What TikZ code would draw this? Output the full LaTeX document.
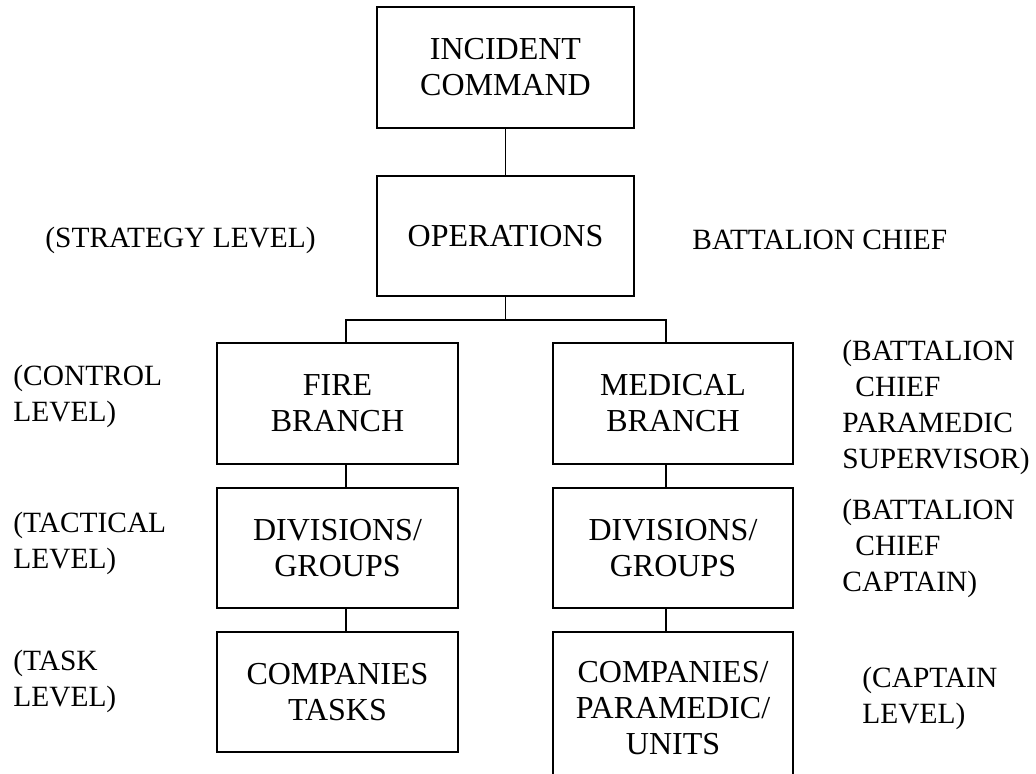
\documentclass[tikz,border=0pt]{standalone}
\usepackage{fontspec}
\setmainfont{Liberation Serif}

\begin{document}
\begin{tikzpicture}[x=0.5pt, y=-0.5pt,
        unit/.style={draw, line width=1pt, align=center, inner sep=0pt, font=\fontsize{16}{18}\selectfont},
        rank/.style={align=left, inner sep=0pt, anchor=west, font=\fontsize{14.7}{18}\selectfont},
        link/.style={line width=0.75pt}] %chart
            \useasboundingbox (0,0) rectangle (1036,774);
            \clip (0,0) rectangle (1036,774);

            \node[unit, minimum width=128.5pt, minimum height=60.5pt] (incident) at (505.5,67.5) {INCIDENT\\COMMAND};
            \node[unit, minimum width=128.5pt, minimum height=60pt] (ops) at (505.5,236) {OPERATIONS};

            \node[unit, minimum width=120.5pt, minimum height=60.5pt] (fire) at (337.5,403.5) {FIRE\\BRANCH};
            \node[unit, minimum width=120pt, minimum height=60.5pt] (med) at (673,403.5) {MEDICAL\\BRANCH};
            \node[unit, minimum width=120.5pt, minimum height=60pt] (firediv) at (337.5,548) {DIVISIONS/\\GROUPS};
            \node[unit, minimum width=120pt, minimum height=60pt] (meddiv) at (673,548) {DIVISIONS/\\GROUPS};
            \node[unit, minimum width=120.5pt, minimum height=60pt] (firecomp) at (337.5,692) {COMPANIES\\TASKS};
            \node[unit, minimum width=120pt, minimum height=76pt] (medcomp) at (673,708) {COMPANIES/\\PARAMEDIC/\\UNITS};

            \node[rank] (strategy) at (45,240) {(STRATEGY LEVEL)};
            \node[rank] (opschief) at (692,240) {BATTALION CHIEF};
            \node[rank] (control) at (13,396) {(CONTROL\\LEVEL)};
            \node[rank] (tactical) at (13,543) {(TACTICAL\\LEVEL)};
            \node[rank] (task) at (13,681) {(TASK\\LEVEL)};
            \node[rank] (branchchief) at (842,407) {(BATTALION\\\hspace*{6.5pt}CHIEF\\PARAMEDIC\\SUPERVISOR)};
            \node[rank] (divchief) at (842,548) {(BATTALION\\\hspace*{6.5pt}CHIEF\\CAPTAIN)};
            \node[rank] (captain) at (862,698) {(CAPTAIN\\LEVEL)};

            \coordinate (bus) at (505.5,320);

            \draw[link] (incident) -- (ops);
            \draw[link] (ops) -- (bus);
            \draw[link] ([xshift=4.25pt]fire.north) |- (bus) -| ([xshift=-3.5pt]med.north);
            \draw[link] ([xshift=4.25pt]fire.south) -- ([xshift=4.25pt]firediv.north);
            \draw[link] ([xshift=4.25pt]firediv.south) -- ([xshift=4.25pt]firecomp.north);
            \draw[link] ([xshift=-3.5pt]med.south) -- ([xshift=-3.5pt]meddiv.north);
            \draw[link] ([xshift=-3.5pt]meddiv.south) -- ([xshift=-3.5pt]medcomp.north);
        \end{tikzpicture}
\end{document}
